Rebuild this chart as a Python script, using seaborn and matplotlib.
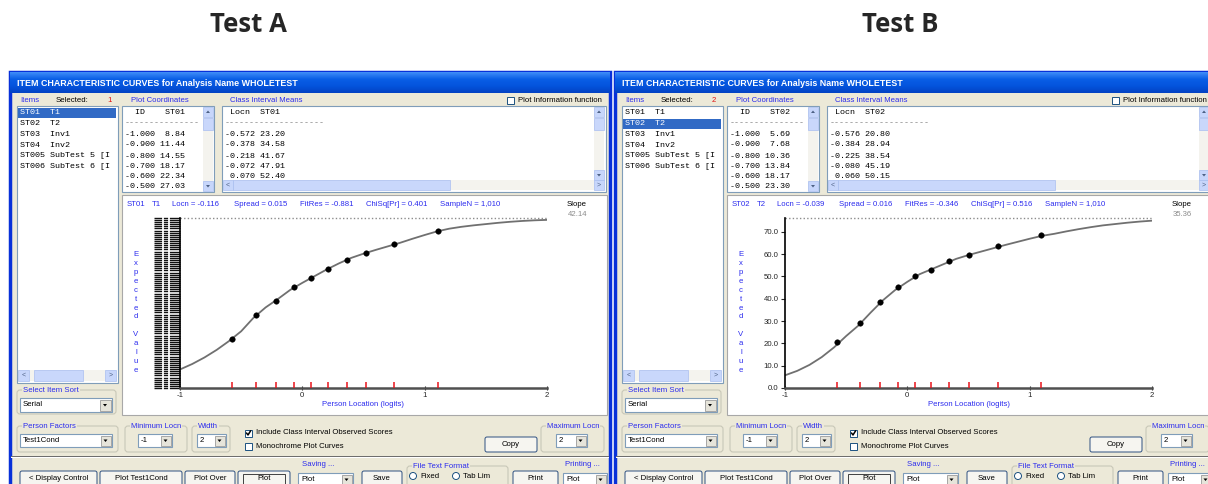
import matplotlib
matplotlib.use("Agg")
import matplotlib.pyplot as plt
from matplotlib.patches import Rectangle, Polygon, Circle, FancyBboxPatch
from matplotlib.lines import Line2D
import numpy as np
import pandas as pd
import seaborn as sns

# values
panel_titles = ["Test A", "Test B"]
item_list = ["ST01  T1", "ST02  T2", "ST03  Inv1", "ST04  Inv2",
             "ST005 SubTest 5 [I", "ST006 SubTest 6 [I"]
selected_item = [1, 2]
item_ids = ["ST01", "ST02"]
item_names = ["T1", "T2"]
locn = ["-0.116", "-0.039"]
spread = ["0.015", "0.016"]
fitres = ["-0.881", "-0.346"]
chisq_pr = ["0.401", "0.516"]
sample_n = ["1,010", "1,010"]
slope = ["42.14", "35.36"]
max_score = [81.0, 76.2]

curve_locn = [-1.0, -0.9, -0.8, -0.7, -0.6, -0.5, -0.4, -0.3, -0.2, -0.1, 0.0,
              0.1, 0.2, 0.3, 0.4, 0.5, 0.6, 0.7, 0.8, 0.9, 1.0,
              1.1, 1.2, 1.3, 1.4, 1.5, 1.6, 1.7, 1.8, 1.9, 2.0]
curve_a = [8.84, 11.44, 14.55, 18.17, 22.34, 27.03, 33.4, 38.4, 42.4, 46.7, 50.1,
           53.3, 56.5, 59.4, 62.0, 64.0, 65.8, 67.5, 69.2, 71.1, 72.9,
           74.6, 75.9, 76.8, 77.5, 78.1, 78.7, 79.2, 79.6, 79.9, 80.1]
curve_b = [5.69, 7.68, 10.36, 13.84, 18.17, 23.30, 28.0, 33.8, 39.3, 43.9, 47.6,
           51.0, 53.3, 55.6, 57.9, 59.6, 61.1, 62.6, 64.1, 65.5, 66.9,
           68.2, 69.1, 70.2, 71.2, 72.1, 72.9, 73.5, 74.1, 74.6, 75.0]

ci_locn_a = [-0.572, -0.378, -0.218, -0.072, 0.070, 0.209, 0.364, 0.522, 0.753, 1.109]
ci_mean_a = [23.20, 34.58, 41.67, 47.91, 52.40, 56.8, 61.1, 64.3, 68.4, 74.8]
ci_locn_b = [-0.576, -0.384, -0.225, -0.080, 0.060, 0.193, 0.343, 0.505, 0.740, 1.095]
ci_mean_b = [20.80, 28.94, 38.54, 45.19, 50.15, 52.7, 56.9, 59.6, 63.7, 68.5]

yticks_b = [0, 10, 20, 30, 40, 50, 60, 70]
xticks = [-1, 0, 1, 2]

curves = [curve_a, curve_b]
ci_locns = [ci_locn_a, ci_locn_b]
ci_means = [ci_mean_a, ci_mean_b]

# figure setup
W, H = 1208, 484
sns.set_style("white")
plt.rcParams["font.family"] = ["Liberation Sans", "DejaVu Sans"]

fig = plt.figure(figsize=(W / 100, H / 100), dpi=100)
bg = fig.add_axes([0, 0, 1, 1])
bg.axis("off")

UI = "Liberation Sans"
MONO = "Liberation Mono"
BLUE_TXT = "#2B2BEE"
FACE = "#ECE9D8"
FS = 5.6


def rect(x, y, w, h, fc="none", ec="none", lw=0.8, z=1):
    bg.add_patch(Rectangle((x, y), w, h, facecolor=fc, edgecolor=ec, lw=lw, zorder=z))


def label(x, y, s, size=FS, color="black", ha="left", family=UI, weight="normal", z=6):
    bg.text(x, y, s, fontsize=size, color=color, ha=ha, va="center",
            family=family, fontweight=weight, zorder=z)


def tri(cx, cy, s=2.0, down=True, color="black", z=7):
    d = 1 if down else -1
    bg.add_patch(Polygon([(cx - s, cy - d * s / 2), (cx + s, cy - d * s / 2), (cx, cy + d * s / 2 + d * 0.5)],
                         closed=True, fc=color, ec="none", zorder=z))


def combo(x, y, w, h, text):
    rect(x, y, w, h, fc="white", ec="#7F9DB9", lw=0.8, z=3)
    rect(x + w - h + 1.5, y + 1.5, h - 3, h - 3, fc="#E6E4DA", ec="#9A9A9A", lw=0.6, z=4)
    tri(x + w - h / 2, y + h / 2)
    label(x + 3, y + h / 2, text)


def button(x, y, w, h, text, pressed=False):
    bg.add_patch(FancyBboxPatch((x, y), w, h, boxstyle="round,pad=0,rounding_size=2",
                                fc="#F6F5F0", ec="#2D4F80", lw=0.7, zorder=3))
    if pressed:
        rect(x + 5, y + 3, w - 10, h - 6, ec="#404040", lw=0.7, z=4)
    label(x + w / 2, y + h / 2, text, ha="center")


def group(x, y, w, h, text):
    bg.add_patch(FancyBboxPatch((x, y), w, h, boxstyle="round,pad=0,rounding_size=3",
                                fc="none", ec="#C8C8B8", lw=0.8, zorder=2))
    bg.text(x + 6, y, text, fontsize=FS, color=BLUE_TXT, family=UI, va="center", ha="left",
            zorder=5, bbox=dict(fc=FACE, ec="none", pad=0.6))


def checkbox(x, y, checked, text):
    rect(x, y - 3.5, 7, 7, fc="white", ec="#1C5180", lw=0.7, z=4)
    if checked:
        bg.plot([x + 1.5, x + 3, x + 5.6], [y, y + 2, y - 2.2], color="black", lw=1.1, zorder=5)
    label(x + 11, y, text)


def radio(x, y, text):
    bg.add_patch(Circle((x, y), 3.5, fc="white", ec="#1C5180", lw=0.7, zorder=4))
    label(x + 7, y, text)


def vscroll(x, y, w, h):
    rect(x, y, w, h, fc="#F4F3EE", z=3)
    rect(x, y, w, w, fc="#C7D6FB", ec="#A9BEF0", lw=0.5, z=4)
    rect(x, y + h - w, w, w, fc="#C7D6FB", ec="#A9BEF0", lw=0.5, z=4)
    rect(x, y + w + 1, w, 12, fc="#C9D7FB", ec="#A9BEF0", lw=0.5, z=4)
    tri(x + w / 2, y + w / 2, s=2.0, down=False, color="#4D6185")
    tri(x + w / 2, y + h - w / 2, s=2.0, down=True, color="#4D6185")


def hscroll(x, y, w, h, thumb=(0.05, 0.6)):
    rect(x, y, w, h, fc="#F4F3EE", z=3)
    rect(x, y, h, h, fc="#C7D6FB", ec="#A9BEF0", lw=0.5, z=4)
    rect(x + w - h, y, h, h, fc="#C7D6FB", ec="#A9BEF0", lw=0.5, z=4)
    rect(x + h + w * thumb[0], y, w * (thumb[1] - thumb[0]), h, fc="#C9D7FB", ec="#A9BEF0", lw=0.5, z=4)
    label(x + h / 2, y + h / 2, "<", size=5, color="#4D6185", ha="center")
    label(x + w - h / 2, y + h / 2, ">", size=5, color="#4D6185", ha="center")


def px_axes(l, t, r, b):
    return fig.add_axes([l / W, 1 - b / H, (r - l) / W, (b - t) / H])


for k in range(2):
    ox = 10 if k == 0 else 615
    X = lambda v: ox + v

    # panel heading
    fig.text((248 if k == 0 else 900) / W, 1 - 25 / H, panel_titles[k], fontsize=18.5,
             fontweight="bold", family="Open Sans", ha="center", va="center")

    # window frame and title bar
    rect(X(0), 72, 600, 420, fc=FACE, ec="#0831D9", lw=2.5, z=1)
    grad = np.linspace(0, 1, 21).reshape(-1, 1)
    bg.imshow(grad, cmap=matplotlib.colors.LinearSegmentedColormap.from_list(
        "xp", ["#3D8BF7", "#0A5EE6", "#0454DD", "#0343C4"]),
        extent=(X(0), X(600), 93, 72), aspect="auto", zorder=2)
    label(X(7), 84, "ITEM CHARACTERISTIC CURVES for Analysis Name WHOLETEST", size=6.4,
          color="white", weight="bold")

    # header row
    label(X(10), 100, "Items", color=BLUE_TXT)
    label(X(46), 100, "Selected:")
    label(X(97), 100, str(selected_item[k]), color="#E01010")
    label(X(121), 100, "Plot Coordinates", color=BLUE_TXT)
    label(X(220), 100, "Class Interval Means", color=BLUE_TXT)
    checkbox(X(497), 100, False, "Plot Information function")

    # item list
    rect(X(7), 106, 101, 277, fc="white", ec="#7F9DB9", lw=0.8, z=2)
    sel = selected_item[k] - 1
    rect(X(8), 108 + 10.7 * sel, 98, 10, fc="#316AC5", z=3)
    for i, it in enumerate(item_list):
        label(X(10), 113 + 10.7 * i, it, size=6.0, family=MONO,
              color="white" if i == sel else "black")
    hscroll(X(8), 370, 98, 11, thumb=(0.05, 0.55))

    # plot coordinates box
    rect(X(112), 106, 92, 86, fc="white", ec="#7F9DB9", lw=0.8, z=2)
    vscroll(X(193), 107, 10, 84)
    rows = ["  ID    " + item_ids[k], "-" * 15]
    rows += [f"{curve_locn[i]:6.3f} {curves[k][i]:5.2f}" for i in range(6)]
    ys = [113, 123, 134, 145, 156, 167, 177, 187]
    for s, yy in zip(rows, ys):
        label(X(115), yy, s, size=6.0, family=MONO, color="#707070" if s.startswith("--") else "black")

    # class interval means box
    rect(X(212), 106, 384, 86, fc="white", ec="#7F9DB9", lw=0.8, z=2)
    vscroll(X(584), 107, 10, 73)
    hscroll(X(213), 180, 381, 10, thumb=(0.0, 0.57))
    rows = [" Locn  " + item_ids[k], "-" * 20]
    rows += [f"{ci_locns[k][i]:6.3f} {ci_means[k][i]:5.2f}" for i in range(5)]
    for s, yy in zip(rows, ys[:7]):
        label(X(215), yy, s, size=6.0, family=MONO, color="#707070" if s.startswith("--") else "black")

    # plot area
    rect(X(112), 195, 485, 220, fc="white", ec="#A8A8A8", lw=0.8, z=2)
    hdr = [(117, item_ids[k]), (142, item_names[k]), (162, "Locn = " + locn[k]),
           (224, "Spread = " + spread[k]), (290, "FitRes = " + fitres[k]),
           (356, "ChiSq[Pr] = " + chisq_pr[k]), (430, "SampleN = " + sample_n[k])]
    for xx, s in hdr:
        label(X(xx), 204, s, color=BLUE_TXT)
    label(X(577), 205, "Slope", ha="right")
    label(X(577), 215, slope[k], color="#8C8C8C", ha="right")
    for i, ch in enumerate("Expected Value"):
        label(X(126), 255 + 8.85 * i, ch, color=BLUE_TXT, ha="center")

    # left bottom controls
    group(X(7), 390, 99, 24, "Select Item Sort")
    combo(X(10), 398, 92, 14, "Serial")
    group(X(7), 426, 101, 26, "Person Factors")
    combo(X(10), 434, 92, 13, "Test1Cond")
    group(X(115), 426, 62, 26, "Minimum Locn")
    combo(X(128), 434, 34, 13, "-1")
    group(X(182), 426, 38, 26, "Width")
    combo(X(187), 434, 29, 13, "2")
    checkbox(X(235), 433, True, "Include Class Interval Observed Scores")
    checkbox(X(235), 446, False, "Monochrome Plot Curves")
    button(X(475), 437, 52, 15, "Copy")
    group(X(531), 426, 63, 26, "Maximum Locn")
    combo(X(546), 434, 31, 13, "2")

    # separator and bottom row
    rect(X(1), 455.5, 598, 1.6, fc="#6E6E6E", z=3)
    rect(X(1), 457.3, 598, 0.8, fc="white", z=3)
    label(X(292), 465, "Saving ...", color=BLUE_TXT)
    label(X(555), 465, "Printing ...", color=BLUE_TXT)
    group(X(397), 466, 101, 24, "File Text Format")
    button(X(10), 471, 77, 16, "< Display Control")
    button(X(90), 471, 82, 16, "Plot Test1Cond")
    button(X(175), 471, 50, 16, "Plot Over")
    button(X(228), 471, 52, 16, "Plot", pressed=True)
    combo(X(288), 473, 55, 13, "Plot")
    button(X(352), 471, 40, 16, "Save")
    radio(X(403), 476, "Fixed")
    radio(X(446), 476, "Tab Lim")
    button(X(503), 471, 45, 16, "Print")
    combo(X(553), 473, 44, 13, "Plot")

    # the item characteristic curve
    ax = px_axes(X(170), 218, X(537), 388)
    ax.set_zorder(10)
    ax.patch.set_alpha(0)
    df_curve = pd.DataFrame({"locn": curve_locn, "ev": curves[k]})
    df_ci = pd.DataFrame({"locn": ci_locns[k], "mean": ci_means[k]})
    sns.lineplot(data=df_curve, x="locn", y="ev", ax=ax, color="#707070", lw=1.3)
    sns.scatterplot(data=df_ci, x="locn", y="mean", ax=ax, color="black", s=16,
                    edgecolor="black", linewidth=0.3, zorder=5)
    ax.vlines(ci_locns[k], 0, max_score[k] * 0.036, color="#E8141B", lw=1.1, zorder=4)
    ax.axhline(max_score[k], color="#8C8C8C", ls=(0, (1, 1.6)), lw=1.0, clip_on=False)
    ax.set_xlim(-1, 2)
    ax.set_ylim(0, max_score[k])
    ax.set_xticks(xticks)
    ax.set_xticklabels([str(t) for t in xticks], fontsize=FS)
    ax.tick_params(axis="x", bottom=True, direction="inout", length=3, width=0.8, pad=1.5)
    ax.set_xlabel("Person Location (logits)", fontsize=FS, color=BLUE_TXT, labelpad=1.0)
    ax.set_ylabel("")
    for s in ["top", "right"]:
        ax.spines[s].set_visible(False)
    ax.spines["bottom"].set_color("#505050")
    ax.spines["bottom"].set_linewidth(1.8)
    ax.spines["left"].set_color("black")
    ax.spines["left"].set_linewidth(1.2)
    if k == 0:
        # the screenshot shows a smeared black block of overprinted y labels here
        ax.set_yticks(list(range(0, 82)))
        ax.set_yticklabels([])
        ax.tick_params(axis="y", left=True, direction="out", length=19, width=1.0, color="#111111")
        for gx in [X(152.5), X(158.5)]:
            fig.add_artist(Line2D([gx, gx], [214, 394], transform=bg.transData,
                                  color="white", lw=1.3, zorder=11))
    else:
        ax.set_yticks(yticks_b)
        ax.set_yticklabels([f"{v:.1f}" for v in yticks_b], fontsize=FS)
        ax.tick_params(axis="y", left=True, direction="out", length=3, width=0.8, pad=1.5)

bg.set_xlim(0, W)
bg.set_ylim(H, 0)
fig.savefig("out.png", dpi=100)
